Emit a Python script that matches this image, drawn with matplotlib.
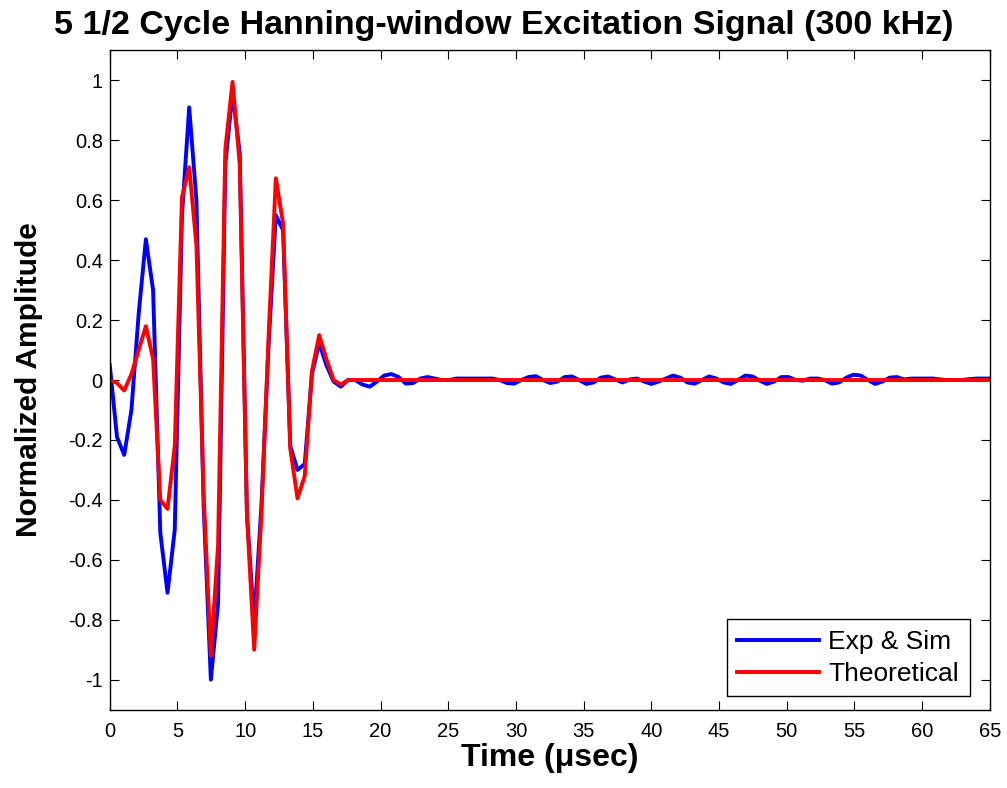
import numpy as np
import matplotlib
matplotlib.use('Agg')
import matplotlib.pyplot as plt
from matplotlib.ticker import FuncFormatter

plt.rcParams['font.family'] = ['Liberation Sans', 'DejaVu Sans']
plt.rcParams['axes.unicode_minus'] = False

# sample spacing (usec)
dt = 0.5333

# Exp & Sim (blue), one value per sample
exp_sim = [0.05, -0.19, -0.25, -0.10, 0.22, 0.47, 0.30, -0.51, -0.71, -0.50,
           0.55, 0.91, 0.60, -0.42, -1.00, -0.745, 0.72, 0.96, 0.757, -0.45,
           -0.81, -0.42, 0.12, 0.55, 0.50, -0.22, -0.30, -0.28, 0.02, 0.123,
           0.05, -0.005, -0.022, 0.0, 0.0, -0.015, -0.022, -0.005, 0.015, 0.02,
           0.01, -0.012, -0.01, 0.005, 0.01, 0.005, 0.0, 0.0, 0.005, 0.005,
           0.005, 0.005, 0.005, 0.005, 0.0, -0.01, -0.012, 0.0, 0.01, 0.013,
           0.0, -0.01, -0.005, 0.01, 0.012, 0.0, -0.013, -0.008, 0.008, 0.012,
           0.002, -0.008, 0.002, 0.005, -0.005, -0.013, -0.005, 0.005, 0.015, 0.008,
           -0.008, -0.012, 0.0, 0.012, 0.005, -0.008, -0.013, 0.0, 0.015, 0.012,
           -0.002, -0.013, -0.005, 0.01, 0.01, 0.0, -0.002, 0.005, 0.005, 0.0,
           -0.012, -0.008, 0.008, 0.018, 0.015, 0.0, -0.013, -0.005, 0.008, 0.01,
           0.002, 0.005, 0.005, 0.005, 0.005, 0.002, 0.0, 0.0, 0.0, 0.003,
           0.005, 0.005, 0.005]

# Theoretical (red), nonzero part; zero afterwards
theory_head = [0.0, -0.01, -0.035, 0.02, 0.10, 0.18, 0.07, -0.40, -0.43, -0.22,
               0.61, 0.71, 0.45, -0.38, -0.92, -0.55, 0.77, 0.995, 0.72, -0.45,
               -0.90, -0.45, 0.15, 0.673, 0.523, -0.23, -0.395, -0.32, 0.03, 0.15,
               0.07, 0.0, -0.015]
theoretical = theory_head + [0.0] * (len(exp_sim) - len(theory_head))

t = np.arange(len(exp_sim)) * dt

fig = plt.figure(figsize=(10.07, 7.88), dpi=100)
ax = fig.add_axes([0.109, 0.0994, 0.874, 0.8366])

ax.plot(t, exp_sim, color='#0000ff', lw=2.8, label='Exp & Sim')
ax.plot(t, theoretical, color='#ff0000', lw=2.8, label='Theoretical')

ax.set_xlim(0, 65)
ax.set_ylim(-1.1, 1.1)
ax.set_xticks(np.arange(0, 66, 5))
ax.set_yticks(np.arange(-1, 1.01, 0.2))
ax.yaxis.set_major_formatter(FuncFormatter(lambda v, p: '%g' % (round(v, 1) + 0.0)))
ax.tick_params(direction='in', length=6.5, width=0.8, top=True, right=True,
               labelsize=14.5, pad=5)
ax.tick_params(axis='x', pad=9)
for s in ax.spines.values():
    s.set_linewidth(1.0)

fig.text(0.5, 0.968, '5 1/2 Cycle Hanning-window Excitation Signal (300 kHz)',
         ha='center', va='center', fontsize=24.5, fontweight='bold')
ax.set_xlabel('Time (\u03bcsec)', fontsize=23, fontweight='bold', labelpad=1)
ax.set_ylabel('Normalized Amplitude', fontsize=21.5, fontweight='bold', labelpad=18)

leg = ax.legend(loc='lower right', bbox_to_anchor=(0.977, 0.02), borderaxespad=0,
                fontsize=19, fancybox=False, framealpha=1, edgecolor='black',
                handlelength=3.1, borderpad=0.4, labelspacing=0.3,
                handletextpad=0.35)
leg.get_frame().set_linewidth(1.0)

fig.savefig('out.png', dpi=100)
